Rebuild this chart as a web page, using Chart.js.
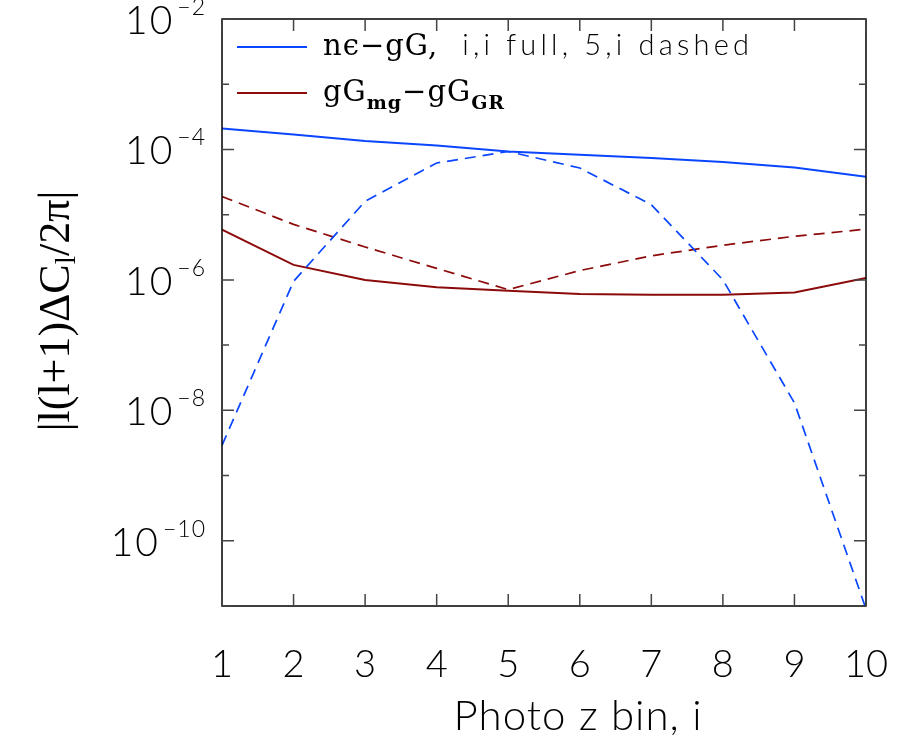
<!DOCTYPE html>
<html>
<head>
<meta charset="utf-8">
<script src="https://cdn.jsdelivr.net/npm/chart.js@4.4.1/dist/chart.umd.min.js"></script>
<style>
  body { margin: 0; background: #fff; overflow: hidden; }
  #wrap { width: 910px; height: 736px; }
  canvas { display: block; }
</style>
</head>
<body>
<div id="wrap"><canvas id="deltaChart"></canvas></div>
<script>
// Photo-z bins
const bins = [1, 2, 3, 4, 5, 6, 7, 8, 9, 10];

// |l(l+1) dC_l / 2pi|
const negGGAuto   = [2.1e-4, 1.7e-4, 1.35e-4, 1.15e-4, 9.3e-5, 8.3e-5, 7.4e-5, 6.4e-5, 5.3e-5, 3.8e-5];   // i,i full
const negGGCross5 = [2.9e-9, 9.5e-7, 1.6e-5, 6.2e-5, 9.3e-5, 5.2e-5, 1.42e-5, 1.0e-6, 1.3e-8, 9e-12];     // 5,i dashed
const ggAuto      = [5.9e-6, 1.7e-6, 1.0e-6, 7.7e-7, 6.8e-7, 6.1e-7, 5.9e-7, 5.9e-7, 6.4e-7, 1.07e-6];
const ggCross5    = [1.9e-5, 7.1e-6, 3.2e-6, 1.5e-6, 7.1e-7, 1.39e-6, 2.34e-6, 3.4e-6, 4.66e-6, 6.0e-6];

// y axis decades, labelled ones are the even powers
const yDecades = [-11, -10, -9, -8, -7, -6, -5, -4, -3, -2];
const yLabelPowers = [-2, -4, -6, -8, -10];

const BLUE = '#0a46ff';
const RED = '#8c0a0a';
const SANS = 'Lato, "Open Sans", sans-serif';
const SERIF = '"Liberation Serif", "DejaVu Serif", serif';
const LSERIF = '"DejaVu Serif", serif';

function pts(values) {
    return bins.map((b, i) => ({ x: b, y: values[i] }));
}

function series(values, color, dashed) {
    return {
        data: pts(values),
        borderColor: color,
        borderWidth: dashed ? 1.7 : 2,
        borderDash: dashed ? [11, 7] : [],
        pointRadius: 0,
        tension: 0,
        fill: false
    };
}

// draws a run of text pieces: [text, font, dy, letterSpacing]
function drawRun(ctx, x, y, pieces) {
    pieces.forEach(p => {
        ctx.font = p[1];
        ctx.letterSpacing = p[3] || '0px';
        ctx.fillText(p[0], x, y + (p[2] || 0));
        x += ctx.measureText(p[0]).width;
    });
    ctx.letterSpacing = '0px';
    return x;
}

const framePlugin = {
    id: 'frame',
    afterDatasetsDraw(chart) {
        const ctx = chart.ctx;
        const a = chart.chartArea;
        const xs = chart.scales.x;
        const ys = chart.scales.y;
        ctx.save();
        ctx.strokeStyle = '#000';
        ctx.lineWidth = 1.5;
        ctx.strokeRect(a.left, a.top, a.right - a.left, a.bottom - a.top);

        ctx.strokeStyle = '#444';
        ctx.beginPath();
        bins.forEach(b => {
            const px = xs.getPixelForValue(b);
            ctx.moveTo(px, a.bottom); ctx.lineTo(px, a.bottom - 12);
            ctx.moveTo(px, a.top); ctx.lineTo(px, a.top + 12);
        });
        yDecades.forEach(p => {
            const py = ys.getPixelForValue(Math.pow(10, p));
            const len = (p % 2 === 0) ? 12 : 7;
            ctx.moveTo(a.left, py); ctx.lineTo(a.left + len, py);
            ctx.moveTo(a.right, py); ctx.lineTo(a.right - len, py);
        });
        ctx.stroke();
        ctx.restore();
    },
    afterDraw(chart) {
        const ctx = chart.ctx;
        const ys = chart.scales.y;
        ctx.save();
        ctx.fillStyle = '#000';

        // y tick labels 10^p
        const supFont = '300 23px ' + SANS;
        const baseFont = '300 39px ' + SANS;
        yLabelPowers.forEach(p => {
            const py = ys.getPixelForValue(Math.pow(10, p));
            const sup = '\u2212' + Math.abs(p);
            ctx.font = supFont;
            ctx.letterSpacing = '1px';
            const sw = ctx.measureText(sup).width;
            ctx.textAlign = 'right';
            ctx.textBaseline = 'alphabetic';
            ctx.fillText(sup, 206, py - 4);
            ctx.letterSpacing = '2px';
            ctx.font = baseFont;
            ctx.fillText('10', 206 - sw - 3, py + 15);
            ctx.letterSpacing = '0px';
        });

        // y title
        ctx.save();
        ctx.translate(69, 311);
        ctx.rotate(-Math.PI / 2);
        ctx.textAlign = 'left';
        ctx.textBaseline = 'alphabetic';
        const tf = '44px ' + SERIF;
        const sf = '30px ' + SERIF;
        const pieces = [['|l(l+1)\u0394C', tf], ['l', sf, 6], ['/2\u03c0|', tf]];
        let w = 0;
        pieces.forEach(p => { ctx.font = p[1]; w += ctx.measureText(p[0]).width; });
        drawRun(ctx, -w / 2, 0, pieces);
        ctx.restore();

        // x title
        ctx.font = '300 42px ' + SANS;
        ctx.letterSpacing = '1px';
        ctx.textAlign = 'center';
        ctx.textBaseline = 'alphabetic';
        ctx.fillText('Photo z bin, i', 578, 730);
        ctx.letterSpacing = '0px';

        // legend
        ctx.textAlign = 'left';
        ctx.lineWidth = 2;
        ctx.strokeStyle = BLUE;
        ctx.beginPath(); ctx.moveTo(237, 47); ctx.lineTo(307, 47); ctx.stroke();
        ctx.strokeStyle = RED;
        ctx.beginPath(); ctx.moveTo(237, 93); ctx.lineTo(307, 93); ctx.stroke();

        const lf = '29px ' + LSERIF;
        const lsub = 'bold 19px ' + LSERIF;
        const lsans = '300 29px ' + SANS;
        drawRun(ctx, 323, 55, [['n\u03f5\u2212gG,', lf, 0, '1px'], ['  i,i full, 5,i dashed', lsans, 0, '4.2px']]);
        drawRun(ctx, 323, 101, [['gG', lf, 0, '1px'], ['mg', lsub, 8, '1px'], ['\u2212gG', lf, 0, '1px'], ['GR', lsub, 8, '1px']]);
        ctx.restore();
    }
};

new Chart(document.getElementById('deltaChart'), {
    type: 'line',
    data: {
        datasets: [
            series(negGGAuto, BLUE, false),
            series(negGGCross5, BLUE, true),
            series(ggAuto, RED, false),
            series(ggCross5, RED, true)
        ]
    },
    options: {
        responsive: true,
        maintainAspectRatio: false,
        animation: false,
        layout: { padding: { top: 19, right: 44, left: 0, bottom: 0 } },
        plugins: {
            legend: { display: false },
            tooltip: { enabled: false }
        },
        scales: {
            x: {
                type: 'linear',
                min: 1,
                max: 10,
                afterFit: s => {
                    s.height = 130;
                    s.paddingLeft = 0;
                    s.paddingRight = 0;
                },
                grid: { display: false },
                border: { display: false },
                ticks: {
                    stepSize: 1,
                    padding: 28,
                    color: '#000',
                    font: { family: SANS, size: 38, weight: '300' }
                }
            },
            y: {
                type: 'logarithmic',
                min: 1e-11,
                max: 1e-2,
                afterFit: s => { s.width = 222; },
                grid: { display: false },
                border: { display: false },
                ticks: { display: false }
            }
        }
    },
    plugins: [framePlugin]
});
</script>
</body>
</html>
